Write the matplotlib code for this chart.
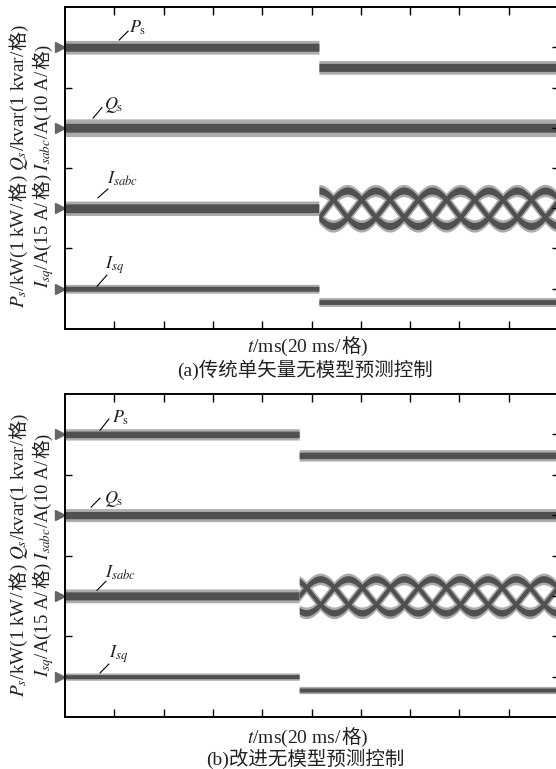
import numpy as np
import matplotlib
matplotlib.use("Agg")
import matplotlib.pyplot as plt
from matplotlib.transforms import IdentityTransform

plt.rcParams['mathtext.fontset'] = 'stix'
SERIF = ['Liberation Serif', 'Noto Sans CJK SC', 'DejaVu Sans']
CJK = ['Noto Sans CJK SC', 'DejaVu Sans']

# time axis: 10 divisions of 20 ms; vertical: 4 channels, one division each
n_div = 10
channels = ['Ps', 'Qs', 'Isabc', 'Isq']
labels = [r'$P_{\mathrm{s}}$', r'$Q_{\mathrm{s}}$', r'$I_{sabc}$', r'$I_{sq}$']
level_before = [3.5, 2.5, 1.5, 0.5]

# panel (a) traditional single-vector model-free predictive control
step_a = 5.15
level_after_a = [3.25, 2.5, 1.5, 0.335]
core_a = [0.05, 0.055, 0.055, 0.03]
spike_a = [0.085, 0.11, 0.09, 0.055]
amp_a = 0.22
period_a = 1.72
phase_a = 90.0

# panel (b) improved model-free predictive control
step_b = 4.75
level_after_b = [3.24, 2.5, 1.5, 0.334]
core_b = [0.04, 0.045, 0.05, 0.025]
spike_b = [0.07, 0.08, 0.085, 0.045]
amp_b = 0.21
period_b = 1.70
phase_b = 0.0

# label leader lines (x0, y0, x1, y1) and label anchor (x, y)
leaders_a = [(1.10, 3.59, 1.28, 3.70), (0.57, 2.62, 0.75, 2.75),
             (0.67, 1.63, 0.87, 1.74), (0.65, 0.53, 0.85, 0.67)]
text_pos_a = [(1.30, 3.68), (0.79, 2.73), (0.85, 1.80), (0.82, 0.745)]
leaders_b = [(0.71, 3.55, 0.89, 3.69), (0.53, 2.60, 0.71, 2.71),
             (0.65, 1.57, 0.83, 1.68), (0.71, 0.545, 0.89, 0.656)]
text_pos_b = [(0.95, 3.64), (0.79, 2.65), (0.81, 1.73), (0.89, 0.73)]

ylab1 = [(r'$P_s$/kW(1 kW/', SERIF), ('格', CJK), (r') $Q_s$/kvar(1 kvar/', SERIF), ('格', CJK), (')', SERIF)]
ylab2 = [(r'$I_{sq}$/A(15 A/', SERIF), ('格', CJK), (r') $I_{sabc}$/A(10 A/', SERIF), ('格', CJK), (')', SERIF)]
xlab = [(r'$t$/ms(20 ms/', SERIF), ('格', CJK), (')', SERIF)]
cap_a = '(a)传统单矢量无模型预测控制'
cap_b = '(b)改进无模型预测控制'

DARK = '#505050'
LIGHT = '#ababab'
W, H = 556, 769

fig = plt.figure(figsize=(W / 100, H / 100), dpi=100)
fig.patch.set_facecolor('white')


def put_pieces(cx, cy, pieces, size, rotation=0):
    # place text pieces one after another, centred on (cx, cy) in pixels (top-left origin)
    r = fig.canvas.get_renderer()
    objs, lens = [], []
    for s, fam in pieces:
        t = fig.text(0, 0, s, fontsize=size, family=fam, rotation=rotation,
                     rotation_mode='anchor', ha='left', va='baseline',
                     transform=IdentityTransform(), color='#222222')
        bb = t.get_window_extent(r)
        objs.append(t)
        lens.append(bb.height if rotation else bb.width)
    total = sum(lens)
    off = -total / 2
    for t, l in zip(objs, lens):
        if rotation:
            t.set_position((cx, H - cy + off))
        else:
            t.set_position((cx + off, H - cy))
        off += l


def panel(top_px, bot_px, step, lev_after, core, spike, amp, period, phase,
          leaders, text_pos, cap, ylab_y, xlab_y, cap_y):
    ax = fig.add_axes([65 / W, 1 - bot_px / H, (558 - 65) / W, (bot_px - top_px) / H])
    ax.set_xlim(0, n_div)
    ax.set_ylim(0, 4)
    x = np.linspace(0, n_div, 3000)
    pre = x < step
    post = ~pre
    for i, ch in enumerate(channels):
        if ch == 'Isabc':
            xp = x[pre]
            c = np.full(xp.shape, level_before[i])
            ax.fill_between(xp, c - spike[i], c + spike[i], color=LIGHT, lw=0)
            ax.fill_between(xp, c - core[i], c + core[i], color=DARK, lw=0)
            xs = x[post]
            waves = [level_before[i] + amp * np.sin(2 * np.pi * (xs - step) / period
                                                     + np.radians(phase) - 2 * np.pi * k / 3)
                     for k in range(3)]
            for s in waves:
                ax.fill_between(xs, s - spike[i] * 0.85, s + spike[i] * 0.85, color=LIGHT, lw=0)
            for s in waves:
                ax.fill_between(xs, s - core[i] * 0.8, s + core[i] * 0.8, color=DARK, lw=0)
        else:
            c = np.where(pre, level_before[i], lev_after[i])
            ax.fill_between(x, c - spike[i], c + spike[i], color=LIGHT, lw=0, step='mid')
            ax.fill_between(x, c - core[i], c + core[i], color=DARK, lw=0, step='mid')
        # channel marker on the left
        ax.plot(-0.10, level_before[i], marker='>', ms=7, color='#666666', clip_on=False)
        x0, y0, x1, y1 = leaders[i]
        ax.plot([x0, x1], [y0, y1], color='black', lw=0.8)
        ax.text(text_pos[i][0], text_pos[i][1], labels[i], fontsize=13,
                ha='left', va='baseline', color='#222222')

    ax.set_xticks(np.arange(1, n_div))
    ax.set_yticks([1, 2, 3])
    ax.tick_params(axis='x', which='both', direction='in', length=6, width=1,
                   top=True, bottom=True, labelbottom=False)
    ax.tick_params(axis='y', direction='in', length=5, width=1, left=True,
                   right=False, labelleft=False)
    ax2 = ax.twinx()
    ax2.set_ylim(0, 4)
    ax2.set_yticks(np.arange(0.5, 4, 0.5))
    ax2.tick_params(direction='in', length=4, width=1, labelright=False)
    for a in (ax, ax2):
        for sp in a.spines.values():
            sp.set_linewidth(1.2)

    put_pieces(24, ylab_y, ylab1, 13.8, rotation=90)
    put_pieces(48, ylab_y, ylab2, 13.5, rotation=90)
    put_pieces(307, xlab_y, xlab, 14)
    fig.text(305 / W, 1 - cap_y / H, cap, fontsize=14, family=SERIF,
             ha='center', va='baseline', color='#222222')


panel(7, 329, step_a, level_after_a, core_a, spike_a, amp_a, period_a, phase_a,
      leaders_a, text_pos_a, cap_a, 166, 352, 376)
panel(394, 717, step_b, level_after_b, core_b, spike_b, amp_b, period_b, phase_b,
      leaders_b, text_pos_b, cap_b, 555, 743, 765)

fig.savefig('out.png', dpi=100)
